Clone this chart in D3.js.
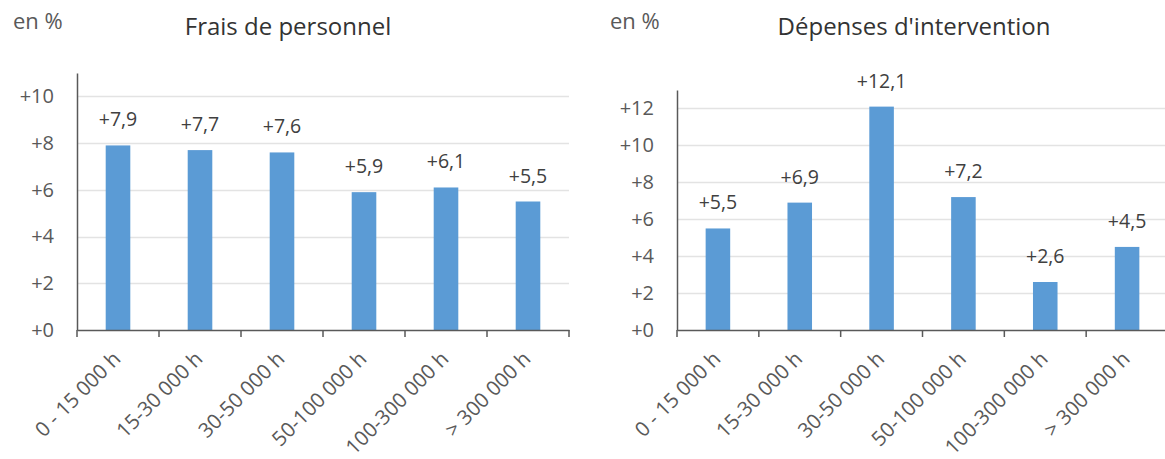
<!DOCTYPE html>
<html>
<head>
<meta charset="utf-8">
<script src="https://cdn.jsdelivr.net/npm/d3@7"></script>
<style>
  html, body { margin: 0; padding: 0; background: #ffffff; }
  svg { display: block; font-family: "Open Sans", "Noto Sans", sans-serif; }
</style>
</head>
<body>
<svg id="chart" width="1165" height="459"></svg>
<script>
// ---- data ----
const categories = ["0 - 15 000 h", "15-30 000 h", "30-50 000 h", "50-100 000 h", "100-300 000 h", "> 300 000 h"];
const fraisValues = [7.9, 7.7, 7.6, 5.9, 6.1, 5.5];
const depensesValues = [5.5, 6.9, 12.1, 7.2, 2.6, 4.5];
const fraisTicks = [0, 2, 4, 6, 8, 10];
const depensesTicks = [0, 2, 4, 6, 8, 10, 12];
const fraisTitle = "Frais de personnel";
const depensesTitle = "Dépenses d'intervention";
const unitLabel = "en %";

// ---- layout ----
const panels = [
  { title: fraisTitle, values: fraisValues, ticks: fraisTicks, yMax: 11,
    x0: 77, x1: 569, yTop: 73, titleX: 288, unitX: 13 },
  { title: depensesTitle, values: depensesValues, ticks: depensesTicks, yMax: 13,
    x0: 677, x1: 1168, yTop: 90, titleX: 914, unitX: 610 }
];
const baseY = 330;
const fmtVal = d => "+" + d.toFixed(1).replace(".", ",");
const fmtTick = d => "+" + d;

const svg = d3.select("#chart");

panels.forEach(p => {
  const g = svg.append("g");
  const x = d3.scaleBand().domain(categories).range([p.x0, p.x1])
    .paddingInner(0.7).paddingOuter(0.35);
  const xSlot = d3.scaleBand().domain(categories).range([p.x0, p.x1]).padding(0);
  const y = d3.scaleLinear().domain([0, p.yMax]).range([baseY, p.yTop]);

  // gridlines
  g.append("g").selectAll("line").data(p.ticks.filter(t => t > 0)).join("line")
    .attr("x1", p.x0).attr("x2", p.x1)
    .attr("y1", d => Math.round(y(d)) + 0.5).attr("y2", d => Math.round(y(d)) + 0.5)
    .attr("stroke", "#e3e3e3").attr("stroke-width", 1.5);

  // bars
  g.append("g").selectAll("rect").data(p.values).join("rect")
    .attr("x", (d, i) => x(categories[i]))
    .attr("width", x.bandwidth())
    .attr("y", d => y(d))
    .attr("height", d => y(0) - y(d))
    .attr("fill", "#5b9bd5");

  // data labels
  g.append("g").selectAll("text").data(p.values).join("text")
    .attr("x", (d, i) => x(categories[i]) + x.bandwidth() / 2)
    .attr("y", d => y(d) - 19)
    .attr("text-anchor", "middle")
    .attr("font-size", 19.5)
    .attr("fill", "#404040")
    .text(fmtVal);

  // y axis
  const yAxis = d3.axisLeft(y).tickValues(p.ticks).tickFormat(fmtTick).tickSize(0).tickPadding(23);
  const ya = g.append("g").attr("transform", `translate(${p.x0},0)`).call(yAxis);
  ya.select(".domain").attr("stroke", "#595959").attr("stroke-width", 1.5);
  ya.selectAll("text").attr("font-size", 20).attr("fill", "#595959")
    .attr("font-family", "'Open Sans', sans-serif");

  // x axis
  const xAxis = d3.axisBottom(xSlot).tickSize(0).tickSizeOuter(0).tickPadding(0);
  const xa = g.append("g").attr("transform", `translate(0,${baseY})`).call(xAxis);
  xa.select(".domain").attr("stroke", "#595959").attr("stroke-width", 1.5);
  xa.selectAll(".tick text")
    .attr("font-size", 20.5).attr("fill", "#595959")
    .attr("font-family", "'Open Sans', sans-serif")
    .attr("text-anchor", "end")
    .attr("dy", 0).attr("y", 0)
    .attr("transform", "translate(4,30) rotate(-45)");
  // boundary tick marks
  const bounds = categories.map(c => xSlot(c)).concat([p.x1]);
  xa.append("g").selectAll("line").data(bounds).join("line")
    .attr("x1", d => d).attr("x2", d => d)
    .attr("y1", 0).attr("y2", 7)
    .attr("stroke", "#595959").attr("stroke-width", 1.5);

  // title and unit
  g.append("text").attr("x", p.titleX).attr("y", 35)
    .attr("text-anchor", "middle").attr("font-size", 24).attr("fill", "#333333")
    .text(p.title);
  g.append("text").attr("x", p.unitX).attr("y", 29)
    .attr("font-size", 22).attr("fill", "#595959")
    .text(unitLabel);
});
</script>
</body>
</html>
